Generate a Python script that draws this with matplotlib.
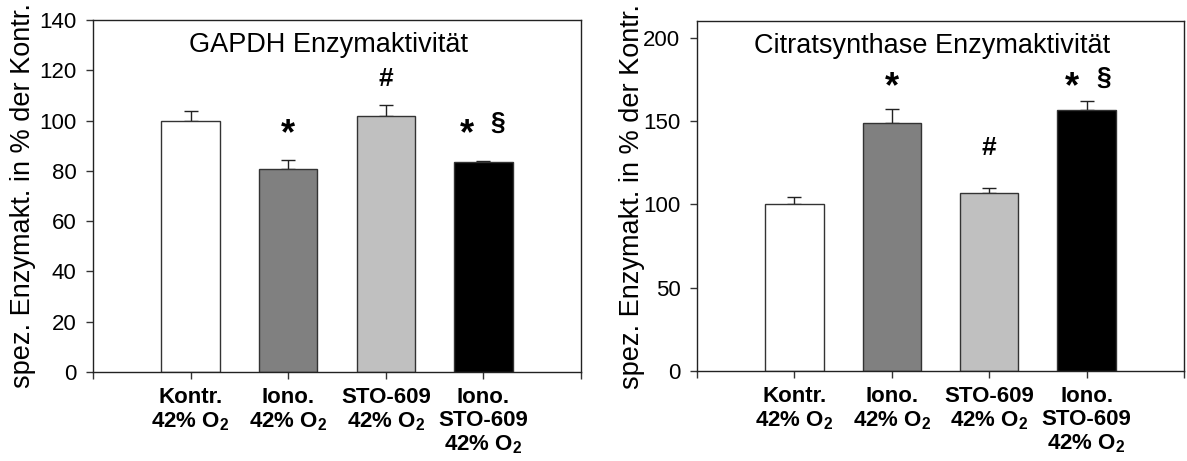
import numpy as np
import matplotlib
matplotlib.use("Agg")
import matplotlib.pyplot as plt

plt.rcParams['font.family'] = ['Liberation Sans', 'DejaVu Sans']
plt.rcParams['mathtext.fontset'] = 'custom'
plt.rcParams['mathtext.rm'] = 'Liberation Sans'
plt.rcParams['mathtext.bf'] = 'Liberation Sans:bold'

# Data
categories = ["Kontr.\n42% O$_\\mathbf{2}$",
              "Iono.\n42% O$_\\mathbf{2}$",
              "STO-609\n42% O$_\\mathbf{2}$",
              "Iono.\nSTO-609\n42% O$_\\mathbf{2}$"]
bar_colors = ['white', '#808080', '#c0c0c0', 'black']

gapdh_values = [100, 80.8, 102.0, 83.6]
gapdh_errors = [3.8, 3.6, 4.3, 0.5]
cs_values = [100, 149.0, 106.8, 156.6]
cs_errors = [4.4, 8.0, 3.0, 5.6]

# significance marks: (x position, y value, symbol)
gapdh_marks = [(2, 97.5, '*'), (3, 116.5, '#'), (3.83, 97.5, '*'), (4.15, 99, '§')]
cs_marks = [(2, 174.5, '*'), (3, 134, '#'), (3.85, 174.5, '*'), (4.18, 176, '§')]

ylabel = "spez. Enzymakt. in % der Kontr."

fig = plt.figure(figsize=(11.87, 4.61), dpi=100)
ax1 = fig.add_axes([93 / 1187, 1 - 372 / 461, (581 - 93) / 1187, 352 / 461])
ax2 = fig.add_axes([697 / 1187, 1 - 371 / 461, (1184 - 697) / 1187, 350 / 461])

x = np.arange(1, len(categories) + 1)


def draw_panel(ax, values, errors, marks, title, ymax, yticks):
    ax.bar(x, values, width=0.6, color=bar_colors, edgecolor='#333333',
           linewidth=1.0, zorder=2)
    ax.errorbar(x, values, yerr=[np.zeros(len(errors)), errors], fmt='none',
                ecolor='#222222', elinewidth=1.0, capsize=5, capthick=1.0, zorder=1)
    ax.set_xlim(0, 5)
    ax.set_ylim(0, ymax)
    ax.set_yticks(yticks)
    ax.set_xticks(np.arange(0, 6))
    ax.set_xticklabels([''] + categories + [''], fontsize=16, fontweight='bold')
    plt.setp(ax.get_xticklabels(), linespacing=1.12)
    ax.tick_params(axis='both', direction='out', length=5, width=1, color='#333333')
    ax.tick_params(axis='y', labelsize=16, pad=7)
    ax.tick_params(axis='x', pad=6)
    for s in ax.spines.values():
        s.set_linewidth(1.0)
        s.set_color('#222222')
    ax.text(0.483, 0.91, title, transform=ax.transAxes, ha='center',
            va='baseline', fontsize=19.5)
    for xm, ym, sym in marks:
        size = 26 if sym == '*' else 19
        yy = ym - 3 * ymax / 140 if sym == '*' else ym
        ax.text(xm, yy, sym, ha='center', va='center', fontsize=size,
                fontweight='bold')
    ax.set_ylabel(ylabel, fontsize=19.5)


draw_panel(ax1, gapdh_values, gapdh_errors, gapdh_marks,
           "GAPDH Enzymaktivität", 140, np.arange(0, 141, 20))
draw_panel(ax2, cs_values, cs_errors, cs_marks,
           "Citratsynthase Enzymaktivität", 210, np.arange(0, 201, 50))
ax1.yaxis.set_label_coords(-57 / 488, 0.5)
ax2.yaxis.set_label_coords(-52 / 487, 0.5)

fig.savefig("out.png", dpi=100)
